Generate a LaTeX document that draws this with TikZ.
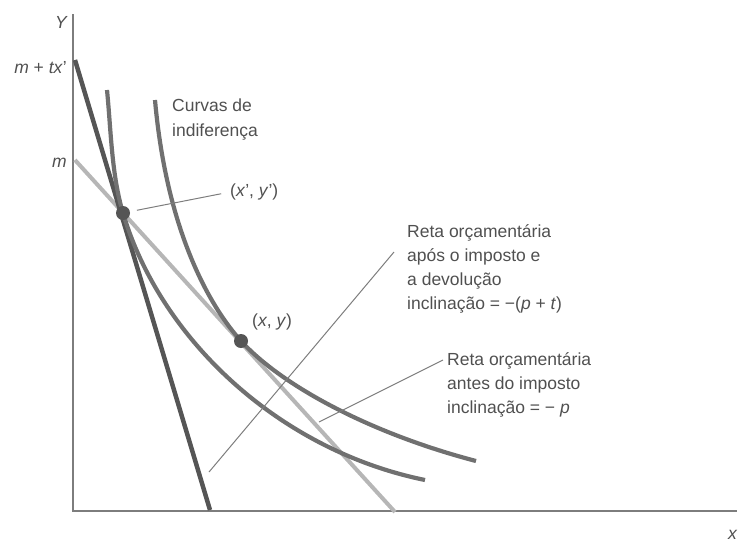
\documentclass[tikz,border=0pt]{standalone}
\usepackage{fontspec}
\setmainfont{Liberation Sans}
\usepackage{tikz}
\usetikzlibrary{calc}
\definecolor{axisgray}{RGB}{125,125,125}
\definecolor{prefill}{RGB}{182,182,182}
\definecolor{posdark}{RGB}{85,85,85}
\definecolor{icline}{RGB}{112,112,112}
\definecolor{txtgray}{RGB}{80,80,80}

\begin{document}
\begin{tikzpicture}[
  x=1pt, y=-1pt,
  font=\fontsize{17.5}{24}\selectfont,
  axisline/.style={draw=axisgray, line width=2.2pt},
  budgetpre/.style={draw=prefill, line width=4pt},
  budgetpos/.style={draw=posdark, line width=4.5pt},
  indcurve/.style={draw=icline, line width=4.2pt},
  leader/.style={draw=axisgray, line width=1pt},
  lbl/.style={text=txtgray, inner sep=0pt, align=left, anchor=north west},
  optpt/.style={circle, fill=posdark, minimum size=14pt, inner sep=0pt},
]
\useasboundingbox (0,0) rectangle (738,544);

% =================================================================
%  AXES
% =================================================================
\coordinate (ytop) at (73,14);
\coordinate (orig) at (73,511);
\coordinate (xend) at (737,511);
\draw[axisline] (ytop) -- (orig) -- (xend);

\node[lbl, anchor=east] (lblY) at (67,22) {\itshape Y};
\node[lbl, anchor=east] (lblX) at (737,535) {\itshape x};
\node[lbl, anchor=east] (lblMt) at (67,68) {\textit{m} + \textit{tx}'};
\node[lbl, anchor=east] (lblM) at (67,163) {\itshape m};

% =================================================================
%  BUDGET LINES
% =================================================================
\coordinate (mPre) at (75,160);
\coordinate (xPre) at (395,512);
\coordinate (mPos) at (75,60);
\coordinate (xPos) at (210,510);
\draw[budgetpre] (mPre) -- (xPre);
\draw[budgetpos] (mPos) -- (xPos);

% =================================================================
%  INDIFFERENCE CURVES
% =================================================================
\draw[indcurve] (107,90) .. controls (111,130) and (111.5,175) .. (123,213)
                 .. controls (160,338) and (278,450) .. (425,480);
\draw[indcurve] (155,100) .. controls (167,235) and (212,309) .. (241,341)
                 .. controls (281,385) and (369,433) .. (476,461);

% =================================================================
%  OPTIMA
% =================================================================
\node[optpt] (ptA) at (123,213) {};
\node[optpt] (ptB) at (241,341) {};

\node[lbl, anchor=west] (lblA) at (230,192) {(\textit{x}', \textit{y}')};
\node[lbl, anchor=west] (lblB) at (252,322) {(\textit{x}, \textit{y})};

% =================================================================
%  LABELS
% =================================================================
\node[lbl, font=\fontsize{17.5}{25}\selectfont] (lblInd) at (172,99)
  {Curvas de\\indiferença};

\node[lbl] (lblPos) at (407,224)
  {Reta orçamentária\\
   após o imposto e\\
   a devolução\\
   inclinação = −(\textit{p} + \textit{t})};

\node[lbl] (lblPre) at (447,352)
  {Reta orçamentária\\
   antes do imposto\\
   inclinação = − \textit{p}};

% =================================================================
%  LEADERS
% =================================================================
\coordinate (leadPos) at (209,472);
\coordinate (leadPre) at (319,422);
\draw[leader, shorten <=7pt, shorten >=9pt] (ptA) -- (lblA.west);
\draw[leader] (leadPos) -- ($(lblPos.north west)+(-13,28)$);
\draw[leader] (leadPre) -- ($(lblPre.north west)+(-4,8)$);

\end{tikzpicture}
\end{document}
